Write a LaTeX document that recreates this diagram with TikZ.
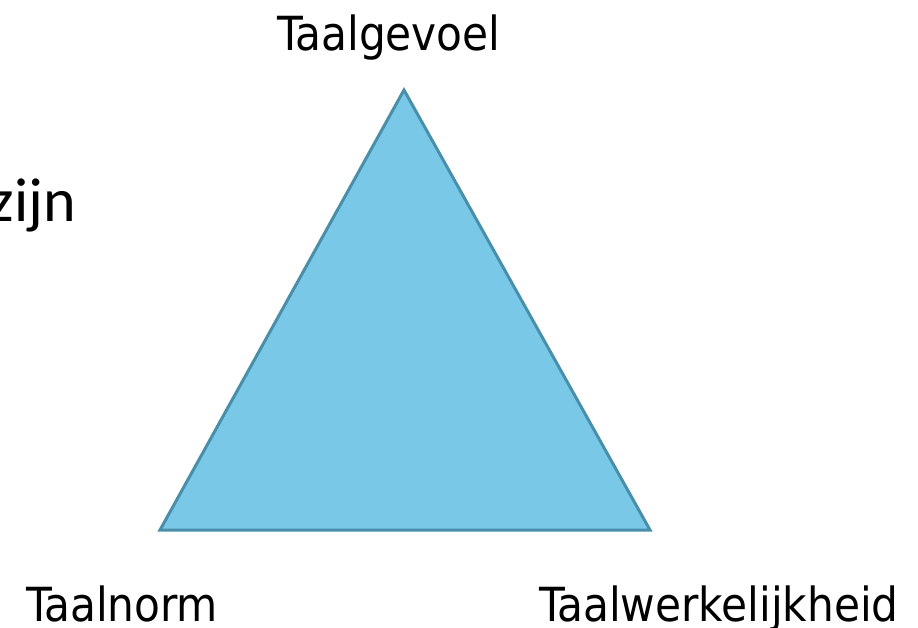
\documentclass[tikz,border=0pt]{standalone}
\usepackage{fontspec}
\setmainfont{DejaVu Sans Condensed}
\newfontfamily\bodyfont{Carlito}
\definecolor{trifill}{HTML}{7AC8E8}
\definecolor{triedge}{HTML}{4A8FAA}
\begin{document}
\begin{tikzpicture}[x=1pt,y=-1pt,
  corner/.style={inner sep=0pt, font=\fontsize{47}{50}\selectfont, text=black}]
\useasboundingbox (0,0) rectangle (918,628);
% triangle
\coordinate (top) at (404,90);
\coordinate (bl) at (160,530);
\coordinate (br) at (650,530);
\filldraw[fill=trifill, draw=triedge, line width=3pt, line join=miter] (top) -- (bl) -- (br) -- cycle;
% labels
\node[corner, anchor=base] (gevoel) at (389,51) {Taalgevoel};
\node[corner, anchor=base west] (norm) at (26,621) {Taalnorm};
\node[corner, anchor=base east] (werk) at (899,621) {Taalwerkelijkheid};
\node[inner sep=0pt, anchor=base east, font=\bodyfont\fontsize{62}{66}\selectfont] (zijn) at (76,222) {zijn};
\end{tikzpicture}
\end{document}
